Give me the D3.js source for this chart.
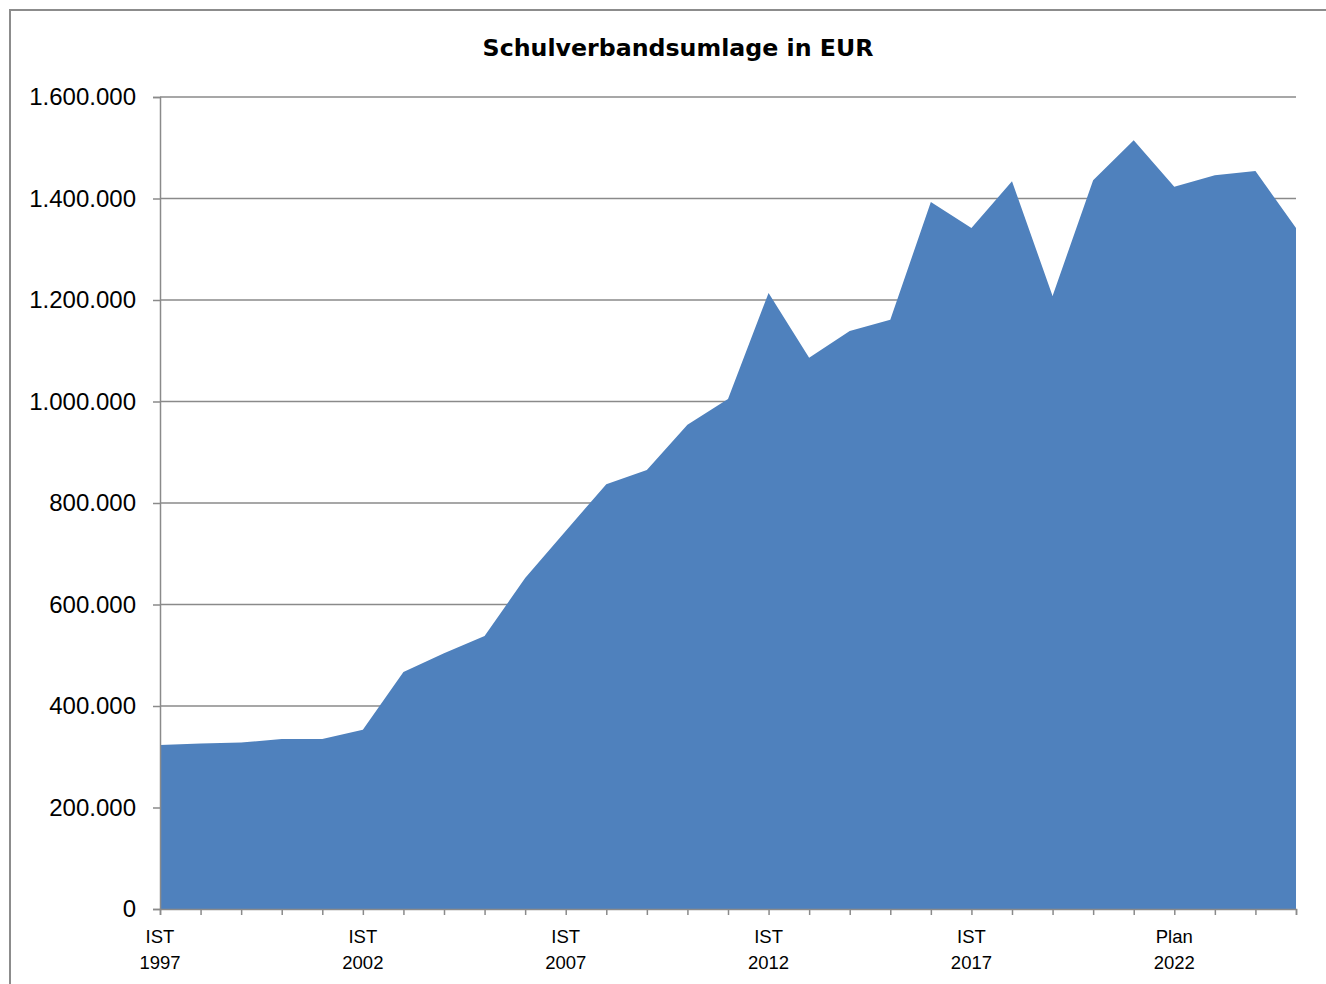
<!DOCTYPE html>
<html>
<head>
<meta charset="utf-8">
<script src="https://cdn.jsdelivr.net/npm/d3@7"></script>
<style>
  body { margin: 0; background: #fff; }
  svg { display: block; }
</style>
</head>
<body>
<svg id="chart"></svg>
<script>
'use strict';
// data
var years = [1997, 1998, 1999, 2000, 2001, 2002, 2003, 2004, 2005, 2006,
             2007, 2008, 2009, 2010, 2011, 2012, 2013, 2014, 2015, 2016,
             2017, 2018, 2019, 2020, 2021, 2022, 2023, 2024, 2025];
var kinds = ['IST', 'IST', 'IST', 'IST', 'IST', 'IST', 'IST', 'IST', 'IST', 'IST',
             'IST', 'IST', 'IST', 'IST', 'IST', 'IST', 'IST', 'IST', 'IST', 'IST',
             'IST', 'IST', 'IST', 'IST', 'IST', 'Plan', 'Plan', 'Plan', 'Plan'];
var umlage = [323000, 326000, 328000, 335000, 335000, 353000, 467000, 504000, 538000, 652000,
              745000, 837000, 865000, 954000, 1005000, 1214000, 1086000, 1139000, 1161000, 1393000,
              1342000, 1434000, 1208000, 1436000, 1515000, 1423000, 1446000, 1454000, 1342000];
var yTicks = [0, 200000, 400000, 600000, 800000, 1000000, 1200000, 1400000, 1600000];

var canvasWidth = 1326;
var canvasHeight = 984;
var margin = {top: 97, right: 30, bottom: 75, left: 160};
var width = canvasWidth - margin.left - margin.right;
var height = canvasHeight - margin.top - margin.bottom;

var svg = d3.select('#chart')
  .attr('width', canvasWidth)
  .attr('height', canvasHeight);

// outer chart frame (runs past the right and bottom edge)
svg.append('rect')
  .attr('x', 10).attr('y', 10)
  .attr('width', canvasWidth + 20).attr('height', canvasHeight + 20)
  .attr('fill', 'none')
  .attr('stroke', '#8c8c8c')
  .attr('stroke-width', 2);

//title
svg.append('text')
  .attr('x', 678)
  .attr('y', 56)
  .attr('text-anchor', 'middle')
  .style('font-family', 'DejaVu Sans')
  .style('font-weight', 'bold')
  .style('font-size', '23.7px')
  .text('Schulverbandsumlage in EUR');

var xScale = d3.scaleLinear()
  .domain([0, years.length - 1])
  .range([0, width]);

var yScale = d3.scaleLinear()
  .domain([0, 1600000])
  .range([height, 0]);

var fmt = d3.formatLocale({decimal: ',', thousands: '.', grouping: [3], currency: ['', ' €']}).format(',.0f');

var graphArea = svg.append('g')
  .attr('transform', 'translate(' + margin.left + ',' + margin.top + ')');

// gridlines
graphArea.append('g')
  .selectAll('line')
  .data(yTicks.slice(1))
  .enter()
  .append('line')
    .attr('x1', 0)
    .attr('x2', width)
    .attr('y1', function(d) { return yScale(d); })
    .attr('y2', function(d) { return yScale(d); })
    .attr('stroke', '#8a8a8a')
    .attr('stroke-width', 1.5);

// the area
var area = d3.area()
  .x(function(d, i) { return xScale(i); })
  .y0(height)
  .y1(function(d) { return yScale(d); });

graphArea.append('path')
  .datum(umlage)
  .attr('d', area)
  .attr('fill', '#4f81bd');

// y axis
var yAxis = graphArea.append('g')
  .attr('class', 'y axis')
  .call(d3.axisLeft(yScale).tickValues(yTicks).tickSize(7).tickPadding(17).tickFormat(fmt));

// x axis
var xAxis = graphArea.append('g')
  .attr('class', 'x axis')
  .attr('transform', 'translate(0,' + height + ')')
  .call(d3.axisBottom(xScale).tickValues(d3.range(years.length)).tickSize(6).tickFormat(''));

svg.selectAll('.axis path').attr('stroke', '#8a8a8a').attr('stroke-width', 1.5);
svg.selectAll('.axis line').attr('stroke', '#8a8a8a').attr('stroke-width', 1.5);
yAxis.selectAll('text')
  .style('font-family', 'Liberation Sans')
  .style('font-size', '24px')
  .attr('fill', '#000');

// category labels, every 5th
var labelIdx = d3.range(0, years.length, 5);
var xLabels = graphArea.append('g')
  .selectAll('text')
  .data(labelIdx)
  .enter()
  .append('text')
    .attr('x', function(i) { return xScale(i); })
    .attr('y', height + 34)
    .attr('text-anchor', 'middle')
    .style('font-family', 'Liberation Sans')
    .style('font-size', '18.5px');
xLabels.append('tspan')
  .attr('x', function(i) { return xScale(i); })
  .text(function(i) { return kinds[i]; });
xLabels.append('tspan')
  .attr('x', function(i) { return xScale(i); })
  .attr('dy', 26)
  .text(function(i) { return years[i]; });
</script>
</body>
</html>
